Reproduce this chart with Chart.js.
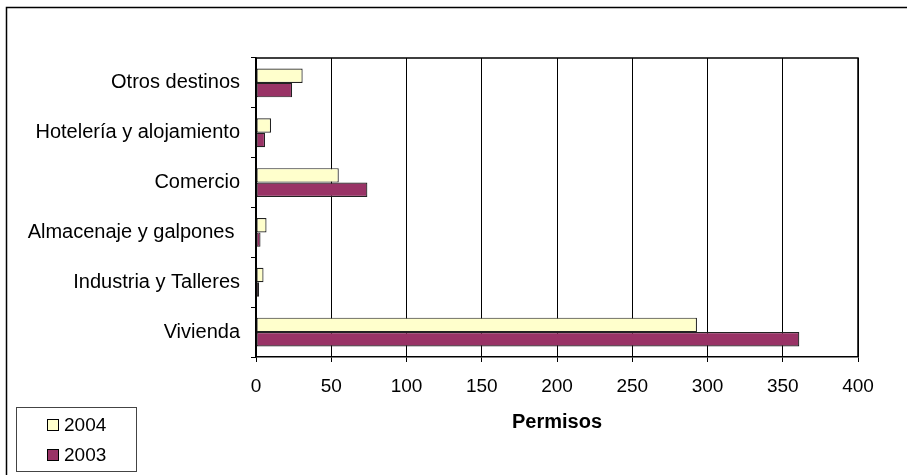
<!DOCTYPE html>
<html>
<head>
<meta charset="utf-8">
<script src="https://cdn.jsdelivr.net/npm/chart.js@4/dist/chart.umd.min.js"></script>
<style>
  body { margin: 0; background: #fff; }
  canvas { display: block; }
</style>
</head>
<body>
<canvas id="permisos-chart" width="907" height="475"></canvas>
<script>
const categories = ['Otros destinos', 'Hotelería y alojamiento', 'Comercio', 'Almacenaje y galpones ', 'Industria y Talleres', 'Vivienda'];
const values2004 = [31, 10, 55, 7, 5, 293];
const values2003 = [24, 6, 74, 3, 2, 361];
const seriesNames = ['2004', '2003'];
const seriesColors = ['#FFFFCC', '#993366'];
const xTicks = [0, 50, 100, 150, 200, 250, 300, 350, 400];

const fontFamily = "'Liberation Sans', Arial, sans-serif";

// frame around the whole picture, box around plot area, and the legend
const framePlugin = {
    id: 'frame',
    afterDraw(chart) {
        const c = chart.ctx;
        const area = chart.chartArea;
        c.save();
        c.strokeStyle = '#000';

        // outer border (left and top only visible)
        c.lineWidth = 1.5;
        c.beginPath();
        c.moveTo(6.5, 480);
        c.lineTo(6.5, 7.5);
        c.lineTo(910, 7.5);
        c.stroke();

        // plot area top and right edges
        c.lineWidth = 1.5;
        c.beginPath();
        c.moveTo(area.left, area.top);
        c.lineTo(area.right, area.top);
        c.lineTo(area.right, area.bottom);
        c.stroke();

        // legend box
        c.lineWidth = 1;
        c.strokeStyle = '#444';
        c.strokeRect(16.5, 407.5, 120, 64);
        c.font = '19px ' + fontFamily;
        c.textBaseline = 'middle';
        c.textAlign = 'left';
        const rows = [425, 455];
        seriesNames.forEach((name, i) => {
            c.fillStyle = seriesColors[i];
            c.fillRect(47, rows[i] - 6, 11, 11);
            c.strokeStyle = '#000';
            c.strokeRect(47.5, rows[i] - 5.5, 11, 11);
            c.fillStyle = '#000';
            c.fillText(name, 64, rows[i] + 1);
        });
        c.restore();
    }
};

const ctx = document.getElementById('permisos-chart').getContext('2d');
new Chart(ctx, {
    type: 'bar',
    data: {
        labels: categories,
        datasets: [
            {
                label: seriesNames[0],
                data: values2004,
                backgroundColor: seriesColors[0],
                borderColor: '#222',
                borderWidth: 1.2,
                borderSkipped: false
            },
            {
                label: seriesNames[1],
                data: values2003,
                backgroundColor: seriesColors[1],
                borderColor: '#222',
                borderWidth: 1.2,
                borderSkipped: false
            }
        ]
    },
    options: {
        indexAxis: 'y',
        responsive: false,
        animation: false,
        layout: {
            padding: { left: 0, top: 58, right: 49, bottom: 0 }
        },
        datasets: {
            bar: {
                categoryPercentage: 0.58,
                barPercentage: 1
            }
        },
        plugins: {
            legend: { display: false },
            tooltip: { enabled: false }
        },
        scales: {
            y: {
                grid: {
                    drawOnChartArea: false,
                    drawTicks: true,
                    tickLength: 5,
                    color: '#000'
                },
                border: { display: true, color: '#000', width: 1.5 },
                ticks: {
                    color: '#000',
                    padding: 11,
                    font: { family: fontFamily, size: 20 }
                },
                afterFit(scale) {
                    scale.width = 256;
                }
            },
            x: {
                min: 0,
                max: 400,
                afterBuildTicks(scale) {
                    scale.ticks = xTicks.map(v => ({ value: v }));
                },
                grid: {
                    color: '#000',
                    tickLength: 5
                },
                border: { display: true, color: '#000', width: 1.5 },
                ticks: {
                    color: '#000',
                    padding: 13,
                    maxRotation: 0,
                    font: { family: fontFamily, size: 19 }
                },
                title: {
                    display: true,
                    text: 'Permisos',
                    color: '#000',
                    font: { family: fontFamily, size: 20, weight: 'bold' },
                    padding: { top: 0, bottom: 41 }
                },
                afterFit(scale) {
                    scale.height = 118;
                }
            }
        }
    },
    plugins: [framePlugin]
});
</script>
</body>
</html>
